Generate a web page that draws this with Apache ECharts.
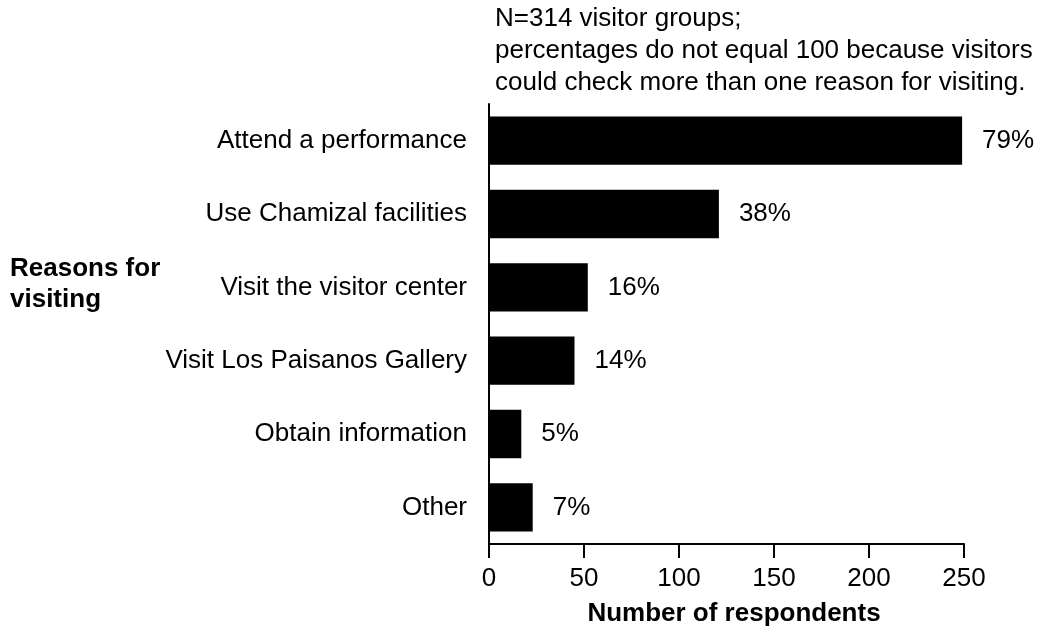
<!DOCTYPE html>
<html>
<head>
<meta charset="utf-8">
<script src="https://cdn.jsdelivr.net/npm/echarts@6/dist/echarts.min.js"></script>
<style>
  html, body { margin: 0; padding: 0; background: #fff; }
  #reasonsBar { width: 1043px; height: 632px; }
</style>
</head>
<body>
<div id="reasonsBar"></div>
<script>
  // data
  var reasons = ['Attend a performance', 'Use Chamizal facilities', 'Visit the visitor center',
    'Visit Los Paisanos Gallery', 'Obtain information', 'Other']
  var respondents = [249, 121, 52, 45, 17, 23]
  var percentLabels = ['79%', '38%', '16%', '14%', '5%', '7%']
  var xTicks = [0, 50, 100, 150, 200, 250]

  var font = '"Liberation Sans", Arial, Helvetica, sans-serif'

  var chart = echarts.init(document.getElementById('reasonsBar'))
  chart.setOption({
    backgroundColor: '#fff',
    animation: false,
    title: {
      text: 'N=314 visitor groups;\npercentages do not equal 100 because visitors\ncould check more than one reason for visiting.',
      left: 495,
      top: 3,
      padding: 0,
      textStyle: {
        fontFamily: font,
        fontSize: 26,
        fontWeight: 'normal',
        color: '#000',
        lineHeight: 32
      }
    },
    graphic: [
      {
        type: 'text',
        left: 10,
        top: 253,
        style: {
          text: 'Reasons for\nvisiting',
          font: 'bold 26px ' + font,
          fill: '#000',
          lineHeight: 31
        }
      }
    ],
    grid: {
      left: 489,
      right: 79,
      top: 104,
      bottom: 88
    },
    xAxis: {
      type: 'value',
      min: xTicks[0],
      max: xTicks[xTicks.length - 1],
      interval: 50,
      name: 'Number of respondents',
      nameLocation: 'middle',
      nameGap: 57,
      nameTextStyle: {
        fontFamily: font,
        fontSize: 26,
        fontWeight: 'bold',
        color: '#000',
        padding: [0, 0, 0, 15]
      },
      splitLine: { show: false },
      axisLine: { show: true, lineStyle: { color: '#000', width: 2 } },
      axisTick: { show: true, length: 14, lineStyle: { color: '#000', width: 2 } },
      axisLabel: {
        margin: 22,
        fontFamily: font,
        fontSize: 26,
        color: '#000'
      }
    },
    yAxis: {
      type: 'category',
      inverse: true,
      data: reasons,
      axisLine: { show: true, lineStyle: { color: '#000', width: 2 } },
      axisTick: { show: false },
      axisLabel: {
        margin: 22,
        fontFamily: font,
        fontSize: 26,
        color: '#000'
      }
    },
    series: [
      {
        type: 'bar',
        data: respondents,
        barCategoryGap: '34%',
        clip: false,
        itemStyle: { color: '#000' },
        label: {
          show: true,
          position: 'right',
          distance: 20,
          fontFamily: font,
          fontSize: 26,
          color: '#000',
          formatter: function (p) { return percentLabels[p.dataIndex] }
        }
      }
    ]
  })
</script>
</body>
</html>
